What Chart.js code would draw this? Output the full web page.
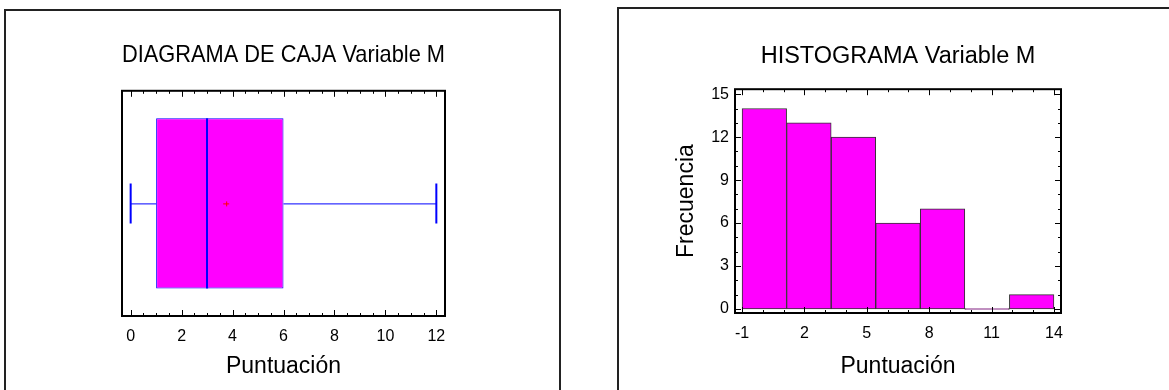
<!DOCTYPE html>
<html>
<head>
<meta charset="utf-8">
<script src="https://cdn.jsdelivr.net/npm/chart.js@4.4.0/dist/chart.umd.min.js"></script>
<style>
  html, body { margin: 0; padding: 0; background: #fff; width: 1169px; height: 390px; overflow: hidden; }
  .panel { position: absolute; border: 2px solid #222; box-sizing: border-box; }
  #frameLeft { left: 4px; top: 9px; width: 557px; height: 420px; }
  #frameRight { left: 617px; top: 7px; width: 570px; height: 420px; }
  #boxWrap { position: absolute; left: 0; top: 0; width: 567px; height: 390px; }
  #histWrap { position: absolute; left: 590px; top: 0; width: 579px; height: 390px; }
</style>
</head>
<body>
<div class="panel" id="frameLeft"></div>
<div class="panel" id="frameRight"></div>
<div id="boxWrap"><canvas id="boxChart" width="567" height="390"></canvas></div>
<div id="histWrap"><canvas id="histChart" width="579" height="390"></canvas></div>
<script>
// box plot summary of Variable M
const boxCategory = ['Variable M'];
const boxFiveNumbers = [0, 1, 3, 6, 12]; // min, Q1, median, Q3, max
const boxMean = 3.75;
const boxTicks = [0, 2, 4, 6, 8, 10, 12];

// histogram of Variable M
const binEdges = [-1, 1.143, 3.286, 5.429, 7.571, 9.714, 11.857, 14];
const frequencies = [14, 13, 12, 6, 7, 0, 1];
const histXTicks = [-1, 2, 5, 8, 11, 14];
const histYTicks = [0, 3, 6, 9, 12, 15];

const FONT = "'Liberation Sans', Arial, sans-serif";

// frame round the plot area with inward major / minor ticks
const framePlugin = {
  id: 'frame',
  afterDraw(chart, args, opts) {
    const { ctx, chartArea: a, scales } = chart;
    ctx.save();
    ctx.strokeStyle = '#000';
    ctx.lineWidth = 1;
    const line = (x1, y1, x2, y2) => {
      ctx.beginPath(); ctx.moveTo(x1, y1); ctx.lineTo(x2, y2); ctx.stroke();
    };
    if (opts.xMinor) {
      const sx = scales.x;
      for (let v = opts.xMinor[0]; v <= opts.xMinor[1] + 1e-9; v += opts.xMinor[2]) {
        const px = Math.round(sx.getPixelForValue(v)) + 0.5;
        line(px, a.bottom, px, a.bottom - 3);
        line(px, a.top, px, a.top + 3);
      }
      sx.ticks.forEach(t => {
        const px = Math.round(sx.getPixelForValue(t.value)) + 0.5;
        line(px, a.bottom, px, a.bottom - 6);
        line(px, a.top, px, a.top + 6);
      });
    }
    if (opts.yMinor) {
      const sy = scales.y;
      for (let v = opts.yMinor[0]; v <= opts.yMinor[1] + 1e-9; v += opts.yMinor[2]) {
        const py = Math.round(sy.getPixelForValue(v)) + 0.5;
        line(a.left, py, a.left + 3, py);
        line(a.right, py, a.right - 3, py);
      }
      sy.ticks.forEach(t => {
        const py = Math.round(sy.getPixelForValue(t.value)) + 0.5;
        line(a.left, py, a.left + 6, py);
        line(a.right, py, a.right - 6, py);
      });
    }
    ctx.lineWidth = 2;
    ctx.strokeRect(a.left, a.top, a.width, a.height);
    ctx.restore();
  }
};

// whiskers, median and mean marker for the box plot
const whiskerPlugin = {
  id: 'whiskers',
  afterDatasetsDraw(chart) {
    const { ctx } = chart;
    const sx = chart.scales.x;
    const bar = chart.getDatasetMeta(0).data[0];
    const yc = bar.y;
    const half = bar.height / 2;
    const cap = half * 0.235;
    const [mn, q1, med, q3, mx] = boxFiveNumbers.map(v => sx.getPixelForValue(v));
    ctx.save();
    ctx.strokeStyle = '#0000ff';
    ctx.lineWidth = 1;
    ctx.beginPath();
    ctx.moveTo(mn, yc + 0.5); ctx.lineTo(q1, yc + 0.5);
    ctx.moveTo(q3, yc + 0.5); ctx.lineTo(mx, yc + 0.5);
    ctx.stroke();
    ctx.lineWidth = 2;
    ctx.beginPath();
    ctx.moveTo(mn, yc - cap); ctx.lineTo(mn, yc + cap);
    ctx.moveTo(mx, yc - cap); ctx.lineTo(mx, yc + cap);
    ctx.moveTo(med, yc - half); ctx.lineTo(med, yc + half);
    ctx.stroke();
    const mp = sx.getPixelForValue(boxMean);
    ctx.strokeStyle = '#ff0000';
    ctx.lineWidth = 1;
    ctx.beginPath();
    ctx.moveTo(mp - 3, yc + 0.5); ctx.lineTo(mp + 3, yc + 0.5);
    ctx.moveTo(mp + 0.5, yc - 2); ctx.lineTo(mp + 0.5, yc + 3);
    ctx.stroke();
    ctx.restore();
  }
};

new Chart(document.getElementById('boxChart'), {
  type: 'bar',
  data: {
    labels: boxCategory,
    datasets: [
      {
        data: [[boxFiveNumbers[1], boxFiveNumbers[2]]],
        backgroundColor: '#ff00ff',
        borderColor: '#0000ff',
        borderWidth: 1,
        borderSkipped: false
      },
      {
        data: [[boxFiveNumbers[2], boxFiveNumbers[3]]],
        backgroundColor: '#ff00ff',
        borderColor: '#0000ff',
        borderWidth: 1,
        borderSkipped: false
      }
    ]
  },
  options: {
    indexAxis: 'y',
    responsive: false,
    animation: false,
    layout: { padding: { left: 122, right: 122, top: 0, bottom: 0 } },
    datasets: { bar: { grouped: false, categoryPercentage: 1, barPercentage: 0.756 } },
    plugins: {
      legend: { display: false },
      tooltip: { enabled: false },
      title: {
        display: true,
        text: 'DIAGRAMA DE CAJA Variable M',
        color: '#000',
        fullSize: false,
        font: { family: FONT, size: 24, weight: 'normal', lineHeight: 1.2 },
        padding: { top: 41, bottom: 21 }
      },
      frame: { xMinor: [0, 12, 0.5] }
    },
    scales: {
      x: {
        type: 'linear',
        min: -0.34,
        max: 12.34,
        offset: false,
        afterBuildTicks: s => { s.ticks = boxTicks.map(v => ({ value: v })); },
        afterFit: s => { s.height = 74; },
        grid: { display: false },
        border: { display: false },
        ticks: { color: '#000', padding: 3, maxRotation: 0, font: { family: FONT, size: 16 } },
        title: {
          display: true,
          text: 'Puntuación',
          color: '#000',
          font: { family: FONT, size: 23, lineHeight: 1.2 },
          padding: { top: 0, bottom: 10 }
        }
      },
      y: { type: 'category', display: false, offset: true }
    }
  },
  plugins: [framePlugin, whiskerPlugin]
});

new Chart(document.getElementById('histChart'), {
  type: 'bar',
  data: {
    datasets: [{
      data: frequencies.map((f, i) => ({ x: (binEdges[i] + binEdges[i + 1]) / 2, y: f })),
      backgroundColor: '#ff00ff',
      borderColor: '#333333',
      borderWidth: 1,
      borderSkipped: false,
      minBarLength: 1,
      categoryPercentage: 1,
      barPercentage: 1
    }]
  },
  options: {
    responsive: false,
    animation: false,
    layout: { padding: { left: 0, right: 108, top: 0, bottom: 0 } },
    plugins: {
      legend: { display: false },
      tooltip: { enabled: false },
      title: {
        display: true,
        text: 'HISTOGRAMA Variable M',
        color: '#000',
        fullSize: false,
        font: { family: FONT, size: 23.5, weight: 'normal', lineHeight: 1.2 },
        padding: { top: 42, bottom: 19 }
      },
      frame: { xMinor: [-1, 14, 1], yMinor: [0, 15, 1] }
    },
    scales: {
      x: {
        type: 'linear',
        min: -1.34,
        max: 14.34,
        offset: false,
        afterBuildTicks: s => { s.ticks = histXTicks.map(v => ({ value: v })); },
        afterFit: s => { s.height = 77; },
        grid: { display: false },
        border: { display: false },
        ticks: { color: '#000', padding: 3, maxRotation: 0, font: { family: FONT, size: 16 } },
        title: {
          display: true,
          text: 'Puntuación',
          color: '#000',
          font: { family: FONT, size: 23, lineHeight: 1.2 },
          padding: { top: 0, bottom: 10 }
        }
      },
      y: {
        type: 'linear',
        min: -0.28,
        max: 15.35,
        afterBuildTicks: s => { s.ticks = histYTicks.map(v => ({ value: v })); },
        afterFit: s => { s.width = 145; },
        grid: { display: false },
        border: { display: false },
        ticks: { color: '#000', padding: -2, font: { family: FONT, size: 16 } },
        title: {
          display: true,
          text: 'Frecuencia',
          color: '#000',
          font: { family: FONT, size: 23, lineHeight: 1.2 },
          padding: { top: 83, bottom: 0 }
        }
      }
    }
  },
  plugins: [framePlugin]
});
</script>
</body>
</html>
